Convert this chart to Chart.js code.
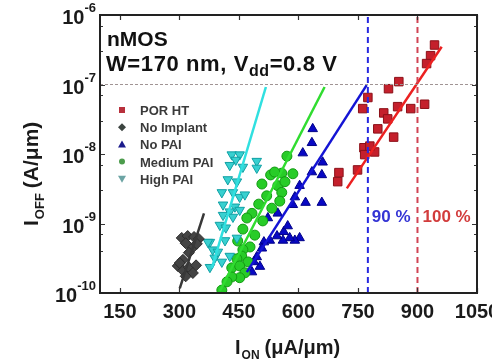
<!DOCTYPE html>
<html>
<head>
<meta charset="utf-8">
<script src="https://cdn.jsdelivr.net/npm/chart.js@4.4.1/dist/chart.umd.min.js"></script>
<style>
  html, body { margin: 0; padding: 0; background: #fff; }
  #wrap { width: 492px; height: 361px; }
</style>
</head>
<body>
<div id="wrap"><canvas id="chart" width="492" height="361"></canvas></div>
<script>
        // Axis ticks
        const onTickLabels = [150, 300, 450, 600, 750, 900, 1050];
        const offDecades = [1e-10, 1e-9, 1e-8, 1e-7, 1e-6];

        // POR HT
        const porHtOn = [943, 933, 923, 853, 827, 775, 762, 918, 850, 883, 815, 825, 800, 840, 765, 792, 767, 780, 749, 702, 699];
        const porHtOff = [3.7e-7, 2.6e-7, 2.0e-7, 1.1e-7, 8.7e-8, 6.5e-8, 4.5e-8, 5.2e-8, 4.8e-8, 4.5e-8, 3.9e-8, 3.2e-8, 2.3e-8, 1.75e-8, 1.23e-8, 1.07e-8, 9.8e-9, 1.3e-8, 5.9e-9, 5.4e-9, 4.0e-9];

        // No Implant
        const noImplantOn = [306, 321, 337, 349, 316, 332, 324, 309, 296, 309, 324, 342, 334, 316, 301, 344];
        const noImplantOff = [6.2e-10, 6.6e-10, 6.4e-10, 6.0e-10, 5.2e-10, 4.4e-10, 3.8e-10, 3.0e-10, 2.45e-10, 2.1e-10, 2.35e-10, 2.5e-10, 1.94e-10, 1.74e-10, 2.7e-10, 5.1e-10];

        // No PAI
        const noPaiOn = [636, 634, 611, 634, 659, 661, 618, 659, 591, 523, 548, 586, 603, 591, 578, 561, 546, 528, 513, 508, 495, 503, 488, 563, 573, 603, 483];
        const noPaiOff = [2.3e-8, 1.45e-8, 1.03e-8, 5.5e-9, 5.0e-9, 7.6e-9, 2.0e-9, 2.0e-9, 2.4e-9, 1.2e-9, 1.4e-9, 1.86e-9, 6.2e-10, 5.7e-10, 6.2e-10, 5.7e-10, 6.6e-10, 5.7e-10, 5.4e-10, 4.4e-10, 3.3e-10, 2.4e-10, 2.8e-10, 7.6e-10, 9.2e-10, 3.5e-9, 2.0e-10];

        // Medium PAI
        const medPaiOn = [571, 586, 558, 530, 508, 548, 520, 558, 553, 500, 533, 483, 510, 470, 460, 490, 447, 478, 460, 457, 445, 473, 432, 452, 465, 452, 432, 407, 420, 566, 540];
        const medPaiOff = [9.3e-9, 5.2e-9, 5.3e-9, 5.0e-9, 3.7e-9, 3.5e-9, 2.5e-9, 2.8e-9, 2.1e-9, 1.9e-9, 1.66e-9, 1.4e-9, 1.09e-9, 1.2e-9, 8.3e-10, 6.8e-10, 5.6e-10, 4.6e-10, 4.2e-10, 3.4e-10, 3.1e-10, 2.8e-10, 2.3e-10, 2.45e-10, 1.95e-10, 1.66e-10, 1.7e-10, 1.1e-10, 1.45e-10, 4.0e-9, 5.5e-9];

        // High PAI
        const highPaiOn = [432, 452, 442, 427, 460, 495, 495, 422, 445, 407, 435, 452, 465, 410, 440, 427, 452, 435, 410, 402, 377, 415, 445, 389, 407, 384, 427, 372, 377, 397, 417];
        const highPaiOff = [9.8e-9, 9.8e-9, 8.2e-9, 6.9e-9, 6.5e-9, 7.9e-9, 6.3e-9, 4.3e-9, 4.0e-9, 2.8e-9, 2.8e-9, 2.4e-9, 2.6e-9, 1.86e-9, 1.74e-9, 1.48e-9, 1.56e-9, 1.24e-9, 1.32e-9, 9.5e-10, 5.4e-10, 5.7e-10, 6.2e-10, 3.2e-10, 2.8e-10, 4.2e-10, 3.4e-10, 5.4e-10, 2.35e-10, 3.9e-10, 8.7e-10];

        // Fit lines (end points)
        const porHtFitOn = [722, 961];
        const porHtFitOff = [3.2e-9, 3.5e-7];
        const noImplantFitOn = [301, 362];
        const noImplantFitOff = [1.17e-10, 1.4e-9];
        const noPaiFitOn = [470, 772];
        const noPaiFitOff = [2.0e-10, 9.8e-8];
        const medPaiFitOn = [402, 666];
        const medPaiFitOff = [1.07e-10, 9.2e-8];
        const highPaiFitOn = [382, 518];
        const highPaiFitOff = [2.3e-10, 9.2e-8];

        // Reference lines
        const limit90On = 775;
        const limit100On = 900;
        const refOff = 1e-7;

        const FONT = '"Liberation Sans", Arial, sans-serif';

        const pts = (xs, ys) => xs.map((v, i) => ({ x: v, y: ys[i] }));

        function scatterSet(label, xs, ys, fill, border, style, radius, rotation) {
            return {
                label,
                data: pts(xs, ys),
                backgroundColor: fill,
                borderColor: border,
                pointStyle: style,
                pointRadius: radius,
                pointBorderWidth: 1,
                rotation: rotation || 0,
                order: 2
            };
        }

        function lineSet(xs, ys, color, width, dash) {
            return {
                label: '',
                data: pts(xs, ys),
                showLine: true,
                borderColor: color,
                borderWidth: width,
                borderDash: dash || [],
                pointRadius: 0,
                fill: false,
                order: 1
            };
        }

        const legendItems = [
            { text: 'POR HT', color: '#b8303c', shape: 'square' },
            { text: 'No Implant', color: '#3c4440', shape: 'diamond' },
            { text: 'No PAI', color: '#1c1c8c', shape: 'up' },
            { text: 'Medium PAI', color: '#4c9c4c', shape: 'circle' },
            { text: 'High PAI', color: '#6ca4a4', shape: 'down' }
        ];

        function marker(ctx, shape, x, y, r) {
            ctx.beginPath();
            if (shape === 'square') ctx.rect(x - r, y - r, 2 * r, 2 * r);
            else if (shape === 'diamond') { ctx.moveTo(x, y - r - 1); ctx.lineTo(x + r + 1, y); ctx.lineTo(x, y + r + 1); ctx.lineTo(x - r - 1, y); }
            else if (shape === 'up') { ctx.moveTo(x, y - r - 1); ctx.lineTo(x + r + 1, y + r); ctx.lineTo(x - r - 1, y + r); }
            else if (shape === 'down') { ctx.moveTo(x, y + r + 1); ctx.lineTo(x + r + 1, y - r); ctx.lineTo(x - r - 1, y - r); }
            else ctx.arc(x, y, r, 0, Math.PI * 2);
            ctx.closePath();
            ctx.fill();
        }

        const decor = {
            id: 'decor',
            afterDatasetsDraw(chart) {
                const { ctx, chartArea: a, scales } = chart;
                const xs = scales.x, ys = scales.y;
                ctx.save();

                // ticks (inside, both sides)
                ctx.strokeStyle = '#333';
                ctx.lineWidth = 1.2;
                xs.ticks.forEach(t => {
                    const px = Math.round(xs.getPixelForValue(t.value)) + 0.5;
                    const len = t.major ? 5 : 3;
                    ctx.beginPath();
                    ctx.moveTo(px, a.bottom); ctx.lineTo(px, a.bottom - len);
                    ctx.moveTo(px, a.top); ctx.lineTo(px, a.top + len);
                    ctx.stroke();
                });
                ys.ticks.forEach(t => {
                    const lg = Math.log10(t.value);
                    const major = Math.abs(lg - Math.round(lg)) < 1e-6;
                    const py = Math.round(ys.getPixelForValue(t.value)) + 0.5;
                    const len = major ? 5 : 3;
                    ctx.beginPath();
                    ctx.moveTo(a.left, py); ctx.lineTo(a.left + len, py);
                    ctx.moveTo(a.right, py); ctx.lineTo(a.right - len, py);
                    ctx.stroke();
                });

                // frame
                ctx.strokeStyle = '#222';
                ctx.lineWidth = 2;
                ctx.strokeRect(a.left, a.top, a.right - a.left, a.bottom - a.top);

                // tick labels
                ctx.fillStyle = '#1a1a1a';
                ctx.font = 'bold 20px ' + FONT;
                ctx.textAlign = 'center';
                ctx.textBaseline = 'alphabetic';
                onTickLabels.forEach(v => {
                    ctx.fillText(String(v), xs.getPixelForValue(v), a.bottom + 25);
                });
                offDecades.forEach(v => {
                    const py = ys.getPixelForValue(v);
                    const exp = String(Math.round(Math.log10(v)));
                    ctx.font = 'bold 13px ' + FONT;
                    const ew = ctx.measureText(exp).width;
                    ctx.textAlign = 'left';
                    ctx.fillText(exp, 96 - ew, py - 3);
                    ctx.font = 'bold 20px ' + FONT;
                    ctx.textAlign = 'right';
                    ctx.fillText('10', 96 - ew, py + 9);
                });

                // axis titles
                ctx.textAlign = 'left';
                ctx.font = 'bold 20px ' + FONT;
                let cx = 235;
                ctx.fillText('I', cx, 354);
                cx += ctx.measureText('I').width + 1;
                ctx.font = 'bold 12px ' + FONT;
                ctx.fillText('ON', cx, 359);
                cx += ctx.measureText('ON').width + 5;
                ctx.font = 'bold 20px ' + FONT;
                ctx.fillText('(\u03bcA/\u03bcm)', cx, 354);

                ctx.save();
                ctx.translate(38, 226);
                ctx.rotate(-Math.PI / 2);
                ctx.font = 'bold 21px ' + FONT;
                let ry = 0;
                ctx.fillText('I', ry, 0);
                ry += ctx.measureText('I').width + 1;
                ctx.font = 'bold 13px ' + FONT;
                ctx.fillText('OFF', ry, 6);
                ry += ctx.measureText('OFF').width + 5;
                ctx.font = 'bold 21px ' + FONT;
                ctx.fillText('(A/\u03bcm)', ry, 0);
                ctx.restore();

                // header
                ctx.fillStyle = '#111';
                ctx.font = 'bold 21px ' + FONT;
                ctx.fillText('nMOS', 107, 46);
                ctx.letterSpacing = '0.6px';
                ctx.font = 'bold 22px ' + FONT;
                let hx = 106;
                ctx.fillText('W=170 nm, V', hx, 71);
                hx += ctx.measureText('W=170 nm, V').width;
                ctx.font = 'bold 16px ' + FONT;
                ctx.fillText('dd', hx, 76);
                hx += ctx.measureText('dd').width;
                ctx.font = 'bold 22px ' + FONT;
                ctx.fillText('=0.8 V', hx, 71);
                ctx.letterSpacing = '0px';

                // percent labels
                ctx.font = 'bold 17px ' + FONT;
                ctx.fillStyle = '#3434d4';
                ctx.fillText('90 %', xs.getPixelForValue(limit90On) + 4, 222);
                ctx.fillStyle = '#d23c3c';
                ctx.fillText('100 %', xs.getPixelForValue(limit100On) + 5, 222);

                // legend
                ctx.font = 'bold 13px ' + FONT;
                legendItems.forEach((it, i) => {
                    const ly = 110 + i * 17.2;
                    ctx.fillStyle = it.color;
                    marker(ctx, it.shape, 122, ly, 3);
                    ctx.fillStyle = '#3a3a3a';
                    ctx.fillText(it.text, 140, ly + 5);
                });

                ctx.restore();
            }
        };

        const ctx = document.getElementById('chart').getContext('2d');
        new Chart(ctx, {
            type: 'scatter',
            data: {
                datasets: [
                    lineSet([100, 1050], [refOff, refOff], '#a09494', 1, [3, 2]),
                    lineSet([limit90On, limit90On], [1e-10, 1e-6], '#2828e0', 2, [6, 4]),
                    lineSet([limit100On, limit100On], [1e-10, 1e-6], '#d04454', 2, [6, 4]),
                    lineSet(porHtFitOn, porHtFitOff, '#ec2020', 2.5),
                    lineSet(noImplantFitOn, noImplantFitOff, '#383838', 2.5),
                    lineSet(noPaiFitOn, noPaiFitOff, '#1414d4', 2.5),
                    lineSet(medPaiFitOn, medPaiFitOff, '#30dc30', 2.5),
                    lineSet(highPaiFitOn, highPaiFitOff, '#30e0e0', 2.5),
                    scatterSet('POR HT', porHtOn, porHtOff, '#c4202c', '#8c1018', 'rect', 6),
                    scatterSet('No Implant', noImplantOn, noImplantOff, '#444444', '#2c2c2c', 'rectRot', 5.5),
                    scatterSet('High PAI', highPaiOn, highPaiOff, '#38d0d0', '#10a0a4', 'triangle', 5.5, 180),
                    scatterSet('Medium PAI', medPaiOn, medPaiOff, '#28cc28', '#139a13', 'circle', 5),
                    scatterSet('No PAI', noPaiOn, noPaiOff, '#0808c4', '#000088', 'triangle', 5.5)
                ]
            },
            options: {
                responsive: false,
                animation: false,
                devicePixelRatio: 1,
                layout: { padding: { left: 100, right: 15, top: 15, bottom: 68 } },
                plugins: {
                    legend: { display: false },
                    tooltip: { enabled: false }
                },
                scales: {
                    x: {
                        type: 'linear',
                        display: false,
                        min: 100,
                        max: 1050,
                        afterBuildTicks: s => {
                            const t = [];
                            for (let v = 150; v <= 1050; v += 75) t.push({ value: v, major: v % 150 === 0 });
                            s.ticks = t;
                        }
                    },
                    y: {
                        type: 'logarithmic',
                        display: false,
                        min: 1e-10,
                        max: 1e-6
                    }
                }
            },
            plugins: [decor]
        });
</script>
</body>
</html>
